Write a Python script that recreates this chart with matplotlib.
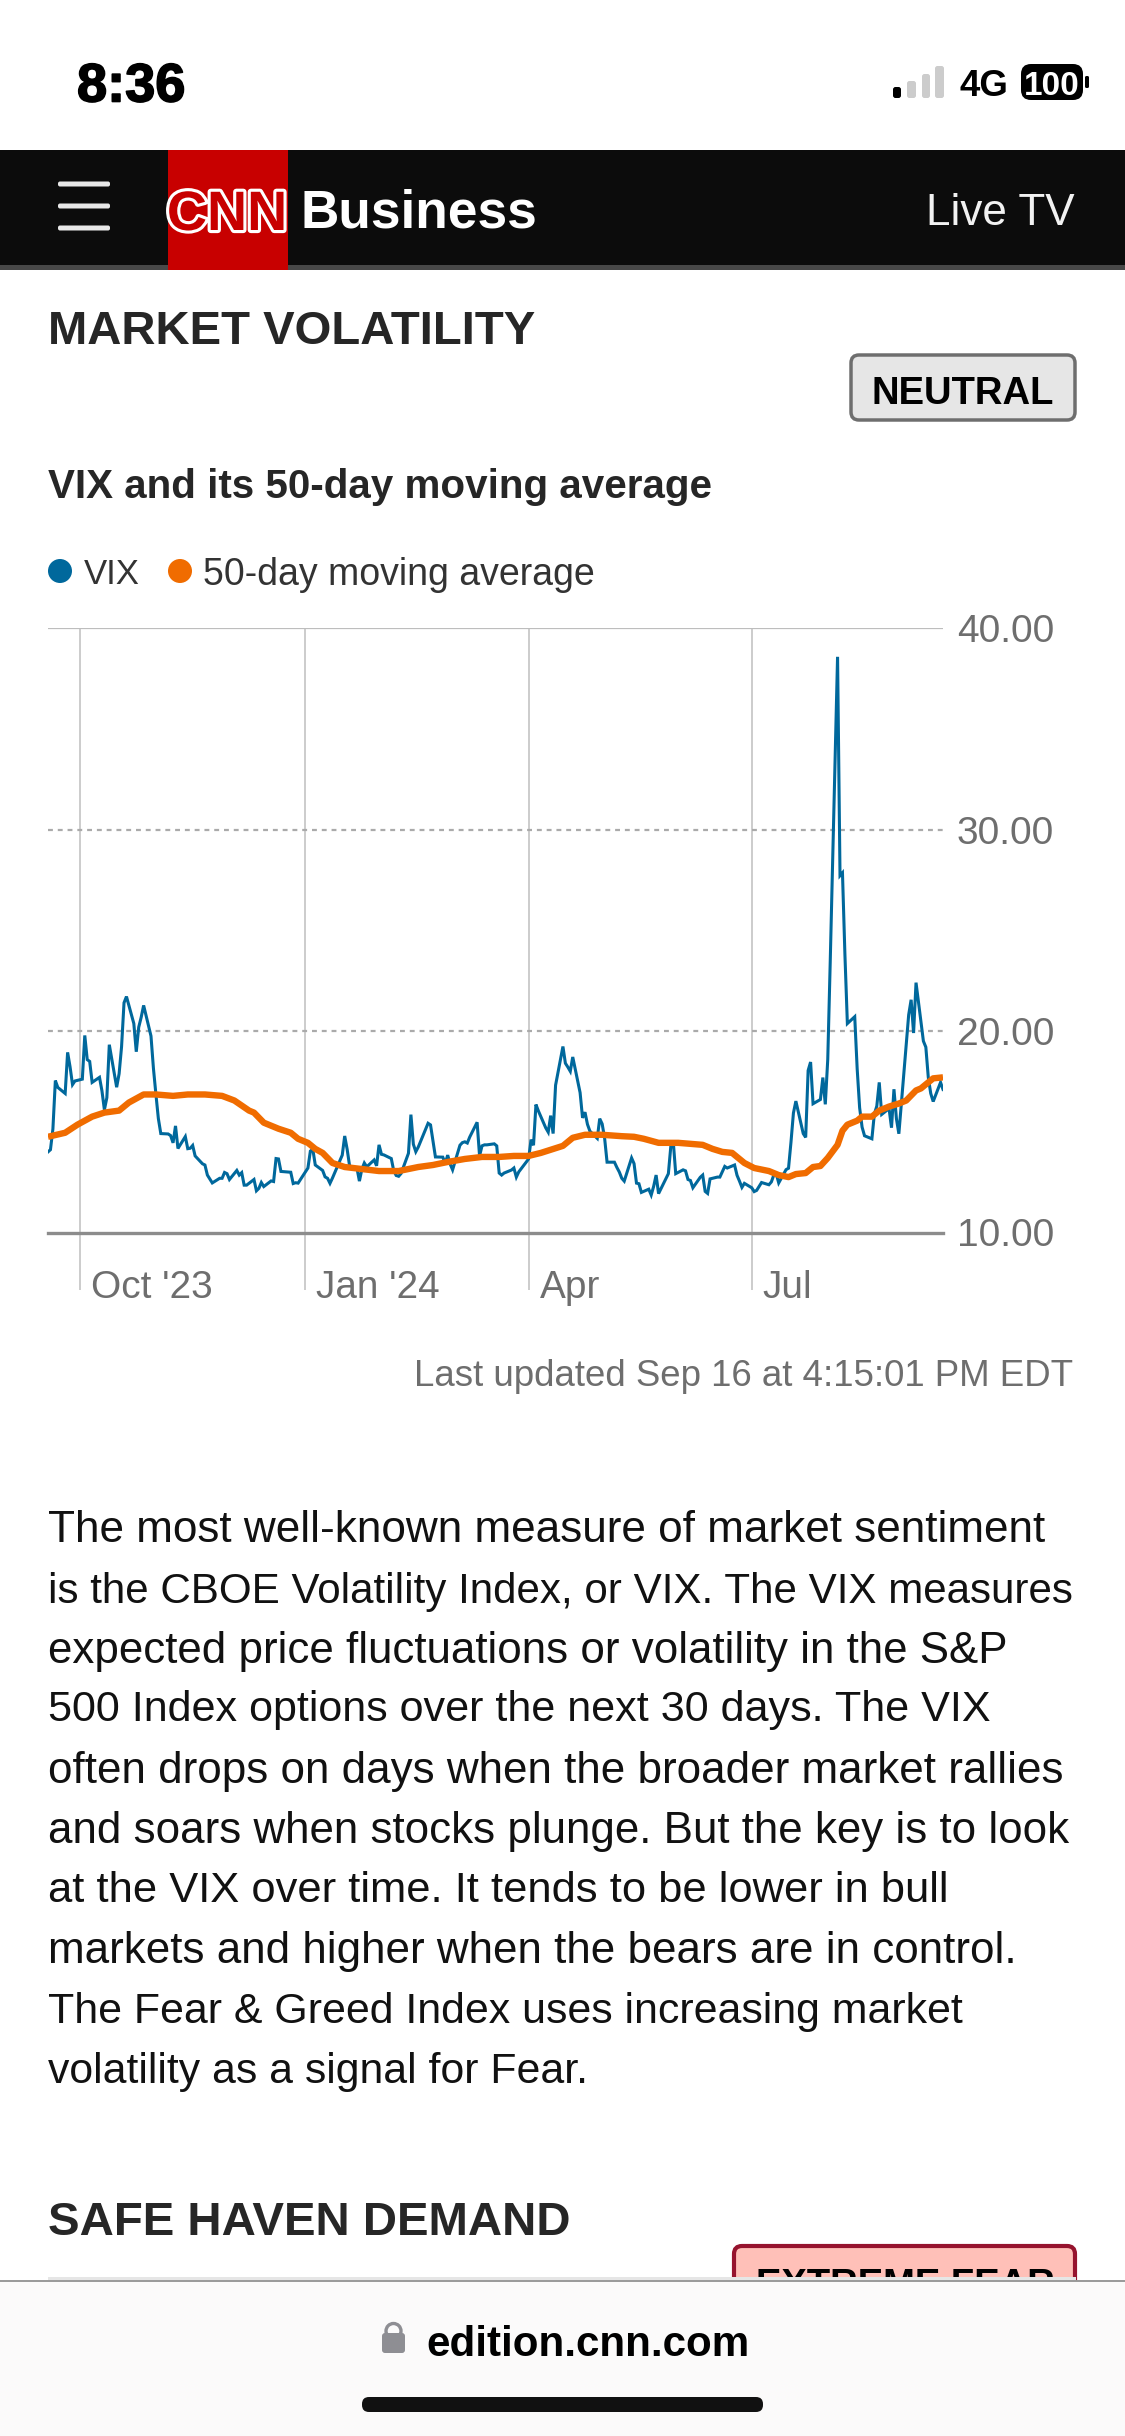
import matplotlib
matplotlib.use('Agg')
import matplotlib.pyplot as plt
import matplotlib.patheffects as pe
from matplotlib.patches import FancyBboxPatch, Rectangle, Circle
from matplotlib.transforms import ScaledTranslation
import pandas as pd

plt.rcParams['font.family'] = ['Liberation Sans', 'DejaVu Sans']

W, H = 1125, 2436

# VIX values, one list per month
vix_sep23 = [14.0, 14.11, 15.14, 17.54, 17.2, 16.9, 18.94, 18.22, 17.34, 17.52]
vix_oct23 = [17.61, 19.78, 18.58, 18.49, 17.45, 17.7, 17.03, 16.09, 16.69, 19.32, 17.21,
             17.88, 19.22, 21.4, 21.71, 20.37, 18.97, 20.19, 20.68, 21.27, 19.75, 18.14]
vix_nov23 = [16.87, 15.66, 14.91, 14.89, 14.81, 14.45, 15.29, 14.17, 14.76, 14.16, 14.18,
             14.32, 13.8, 13.41, 13.35, 12.85, 12.46, 12.69, 12.69, 12.98, 12.92]
vix_dec23 = [12.63, 13.08, 12.85, 12.97, 12.35, 12.35, 12.63, 12.07, 12.19, 12.48, 12.28,
             12.56, 12.53, 13.67, 13.65, 13.03, 12.99, 12.43, 12.47, 12.45]
vix_jan24 = [13.2, 14.04, 14.13, 13.35, 13.08, 12.76, 12.69, 12.44, 12.7, 13.84, 14.79,
             14.13, 13.3, 13.19, 12.55, 13.14, 13.45, 13.26, 13.6, 13.31, 14.35]
vix_feb24 = [13.88, 13.85, 13.67, 13.06, 12.83, 12.79, 12.93, 13.93, 15.85, 14.38, 14.01,
             14.24, 15.42, 15.34, 14.54, 13.75, 13.74, 13.43, 13.84, 13.4]
vix_mar24 = [13.11, 14.33, 14.46, 14.5, 14.44, 14.74, 15.47, 13.8, 14.3, 14.35, 14.35,
             14.4, 14.3, 12.95, 12.85, 12.95, 13.1, 13.2, 12.75, 13.01]
vix_apr24 = [13.65, 14.61, 14.33, 16.35, 16.03, 15.19, 14.98, 15.8, 14.91, 17.31, 19.23,
             18.4, 18.21, 18.0, 18.71, 16.94, 15.69, 15.97, 15.37, 15.03, 14.67, 15.65]
vix_may24 = [15.39, 14.68, 13.49, 13.49, 13.23, 13.0, 12.69, 12.55, 13.7, 13.42, 12.45,
             12.42, 11.99, 12.15, 11.86, 12.29, 12.85, 11.93, 12.92, 14.28, 14.5, 12.92]
vix_jun24 = [13.11, 13.06, 12.63, 12.58, 12.22, 12.74, 12.85, 12.04, 11.94, 12.66, 12.75,
             12.75, 13.28, 13.2, 13.35, 12.84, 12.55, 12.24, 12.44]
vix_jul24 = [12.22, 12.03, 12.09, 12.48, 12.37, 12.51, 12.85, 12.91, 12.46, 13.12, 13.19,
             14.48, 15.93, 16.52, 14.91, 14.72, 18.04, 18.46, 16.39, 16.6, 17.69, 16.36]
vix_aug24 = [18.59, 23.39, 38.57, 27.71, 27.85, 23.79, 20.37, 20.71, 18.12, 16.19, 15.23,
             14.8, 14.65, 15.88, 16.27, 17.45, 15.86, 16.15, 15.2, 17.11, 15.65, 14.9]
vix_sep24 = [20.8, 21.55, 19.9, 22.4, 19.5, 19.2, 17.7, 16.9, 16.5, 17.45, 17.1]

market_holidays = ['2023-11-23', '2023-12-25', '2024-01-01', '2024-01-15', '2024-02-19',
                   '2024-03-29', '2024-05-27', '2024-06-19', '2024-07-04', '2024-09-02']

# moving average, days since the first date and value
ma_days = [0, 7, 12, 18, 23, 29, 33, 39, 44, 51, 57, 64, 71, 76, 82, 84, 88, 92, 94, 99,
           102, 106, 109, 112, 116, 121, 128, 135, 143, 147, 151, 157, 163, 170, 177, 184,
           190, 196, 201, 210, 214, 219, 226, 234, 239, 243, 249, 257, 262, 267, 271, 275,
           279, 284, 288, 294, 298, 302, 305, 309, 312, 315, 318, 322, 324, 326, 330, 332,
           336, 339, 343, 347, 350, 354, 356, 359, 361, 365]
ma_values = [14.75, 14.95, 15.35, 15.75, 15.95, 16.05, 16.45, 16.85, 16.85, 16.78, 16.85,
             16.85, 16.78, 16.55, 16.05, 15.95, 15.45, 15.25, 15.15, 14.95, 14.65, 14.45,
             14.15, 13.95, 13.45, 13.25, 13.15, 13.05, 13.05, 13.15, 13.25, 13.35, 13.5,
             13.65, 13.75, 13.75, 13.8, 13.8, 13.95, 14.3, 14.7, 14.85, 14.85, 14.78, 14.75,
             14.65, 14.45, 14.45, 14.4, 14.35, 14.15, 14.0, 13.95, 13.45, 13.2, 13.05, 12.85,
             12.75, 12.9, 12.95, 13.25, 13.3, 13.7, 14.35, 15.05, 15.35, 15.55, 15.75, 15.75,
             16.05, 16.25, 16.4, 16.55, 17.05, 17.15, 17.45, 17.65, 17.7]

tick_dates = ['2023-10-01', '2024-01-01', '2024-04-01', '2024-07-01']
tick_labels = ["Oct '23", "Jan '24", 'Apr', 'Jul']
y_ticks = [10, 20, 30, 40]

paragraph = [
    'The most well-known measure of market sentiment',
    'is the CBOE Volatility Index, or VIX. The VIX measures',
    'expected price fluctuations or volatility in the S&P',
    '500 Index options over the next 30 days. The VIX',
    'often drops on days when the broader market rallies',
    'and soars when stocks plunge. But the key is to look',
    'at the VIX over time. It tends to be lower in bull',
    'markets and higher when the bears are in control.',
    'The Fear & Greed Index uses increasing market',
    'volatility as a signal for Fear.',
]
paragraph_y = [1526, 1587, 1647, 1706, 1767, 1827, 1886, 1947, 2008, 2067]
# the original face is not installed, so each line gets the size that fits its width
paragraph_size = [31.8, 30.3, 31.6, 31.1, 31.7, 31.6, 31.3, 31.7, 30.9, 30.8]

BLUE = '#00689c'
ORANGE = '#f06c00'
GREY = '#6e6e6e'
DARK = '#262626'

fig = plt.figure(figsize=(W / 100, H / 100), dpi=100, facecolor='white')

# page furniture is drawn in pixel coordinates
page = fig.add_axes([0, 0, 1, 1])
page.set_xlim(0, W)
page.set_ylim(H, 0)
page.axis('off')


def label(x, y, s, size, color='black', weight='normal', ha='left', zorder=5):
    return page.text(x, y, s, fontsize=size, color=color, fontweight=weight, ha=ha,
                     va='center_baseline', zorder=zorder)


def rounded(x0, y0, x1, y1, radius, face, edge='none', lw=0, zorder=2):
    page.add_patch(FancyBboxPatch((x0, y0), x1 - x0, y1 - y0,
                                  boxstyle=f'round,pad=0,rounding_size={radius}',
                                  fc=face, ec=edge, lw=lw, zorder=zorder))


# status bar
clock = label(77, 82, '8:36', 39, weight='bold')
clock.set_path_effects([pe.withStroke(linewidth=1.2, foreground='black')])
for x0, x1, top, col in [(893, 901, 87, 'black'), (907, 916, 81, '#cccccc'),
                         (922, 930, 74, '#cccccc'), (935, 944, 66, '#cccccc')]:
    rounded(x0, top, x1, 98, 2.5, col)
label(959, 83, '4G', 26.5, weight='bold')
rounded(1021, 64, 1083, 100, 10, 'black')
label(1052, 83, '100', 24, color='white', weight='bold', ha='center')
rounded(1085, 76, 1089, 88, 1.5, 'black')

# nav bar
page.add_patch(Rectangle((0, 150), W, 115, fc='#0c0c0c', ec='none', zorder=1))
page.add_patch(Rectangle((0, 265), W, 5, fc='#484848', ec='none', zorder=1))
page.add_patch(Rectangle((168, 150), 120, 120, fc='#c80000', ec='none', zorder=2))
for yy in [184, 206, 228]:
    rounded(58, yy - 2.5, 110, yy + 2.5, 2, '#e8e8e8')
cnn = page.text(227, 210, 'CNN', fontsize=40, color='#c80000', fontweight='bold', ha='center',
                va='center_baseline', zorder=5, family=['Liberation Sans Narrow', 'Liberation Sans'])
cnn.set_path_effects([pe.withStroke(linewidth=4.5, foreground='white')])
label(301, 208, 'Business', 38.3, color='white', weight='bold')
label(1075, 209, 'Live TV', 31.7, color='#f2f2f2', ha='right')

# headings
label(48, 327, 'MARKET VOLATILITY', 34, color=DARK, weight='bold')
rounded(851, 355, 1075, 420, 8, '#e6e6e6', edge=GREY, lw=2.5)
label(963, 390, 'NEUTRAL', 27.5, weight='bold', ha='center')
label(48, 483, 'VIX and its 50-day moving average', 29.1, color=DARK, weight='bold')

# legend
page.add_patch(Circle((60, 571), 12, fc=BLUE, ec='none'))
label(84, 571, 'VIX', 25, color='#333333')
page.add_patch(Circle((180, 571), 12, fc=ORANGE, ec='none'))
label(203, 571, '50-day moving average', 27, color='#333333')

# chart
ax_left, ax_right, ax_top, ax_bottom = 48, 943, 628, 1232.5
ax = fig.add_axes([ax_left / W, 1 - ax_bottom / H, (ax_right - ax_left) / W, (ax_bottom - ax_top) / H])
ax.patch.set_alpha(0)

vix_values = (vix_sep23 + vix_oct23 + vix_nov23 + vix_dec23 + vix_jan24 + vix_feb24 + vix_mar24
              + vix_apr24 + vix_may24 + vix_jun24 + vix_jul24 + vix_aug24 + vix_sep24)
days = pd.bdate_range('2023-09-18', '2024-09-17')
days = days[~days.isin(pd.to_datetime(market_holidays))]
ma_dates = pd.Timestamp('2023-09-18') + pd.to_timedelta(ma_days, unit='D')

ax.plot(days, vix_values, color=BLUE, lw=2.2, solid_joinstyle='miter', zorder=3)
ax.plot(ma_dates, ma_values, color=ORANGE, lw=4.6, solid_capstyle='butt', zorder=4)

ax.set_xlim(pd.Timestamp('2023-09-18'), pd.Timestamp('2024-09-17'))
ax.set_ylim(10, 40)
for side in ax.spines:
    ax.spines[side].set_visible(False)

ax.yaxis.tick_right()
ax.set_yticks(y_ticks)
ax.set_yticklabels([f'{v:.2f}' for v in y_ticks], fontsize=28, color=GREY)
ax.tick_params(axis='y', length=0, pad=10)
ax.axhline(40, color='#bdbdbd', lw=1.6, zorder=1)
ax.axhline(30, color='#aaaaaa', lw=1.6, ls=(0, (2.2, 2.2)), zorder=1)
ax.axhline(20, color='#aaaaaa', lw=1.6, ls=(0, (2.2, 2.2)), zorder=1)
ax.axhline(10, color='#8c8c8c', lw=2.4, zorder=2, clip_on=False)

ax.set_xticks(pd.to_datetime(tick_dates))
ax.set_xticklabels(tick_labels, fontsize=27.9, color=GREY, ha='left')
ax.tick_params(axis='x', length=41, width=1.3, color='#c8c8c8', pad=-14)
for t in ax.get_xticklabels():
    t.set_transform(t.get_transform() + ScaledTranslation(11 / 100, 0, fig.dpi_scale_trans))
ax.grid(axis='x', color='#c8c8c8', lw=1.3, zorder=1)
ax.set_axisbelow(True)

label(1073, 1372, 'Last updated Sep 16 at 4:15:01 PM EDT', 26.4, color=GREY, ha='right')

# body text
for yy, line, size in zip(paragraph_y, paragraph, paragraph_size):
    label(48, yy, line, size, color='#111111')

label(48, 2218, 'SAFE HAVEN DEMAND', 34.1, color=DARK, weight='bold')

# next section, cut off by the browser bar
rounded(734, 2246, 1075, 2320, 8, '#ffc0b8', edge='#96132e', lw=3, zorder=2)
label(905, 2282, 'EXTREME FEAR', 27.5, weight='bold', ha='center', zorder=3)
page.add_patch(Rectangle((48, 2277), 1028, 4, fc='#e6e6e6', ec='none', zorder=3))

# browser bar
page.add_patch(Rectangle((0, 2281), W, H - 2281, fc='#fbfafa', ec='none', zorder=6))
page.plot([0, W], [2281, 2281], color='#999999', lw=1.4, zorder=7)
rounded(382, 2333, 405, 2353, 3, '#8e8e93', zorder=7)
page.add_patch(Circle((393.5, 2331), 7.5, fc='none', ec='#8e8e93', lw=2.4, zorder=7))
label(426, 2340, 'edition.cnn.com', 30.3, weight='bold', zorder=8)
rounded(362, 2397, 763, 2412, 7, '#111111', zorder=7)

fig.savefig('out.png', dpi=100)
